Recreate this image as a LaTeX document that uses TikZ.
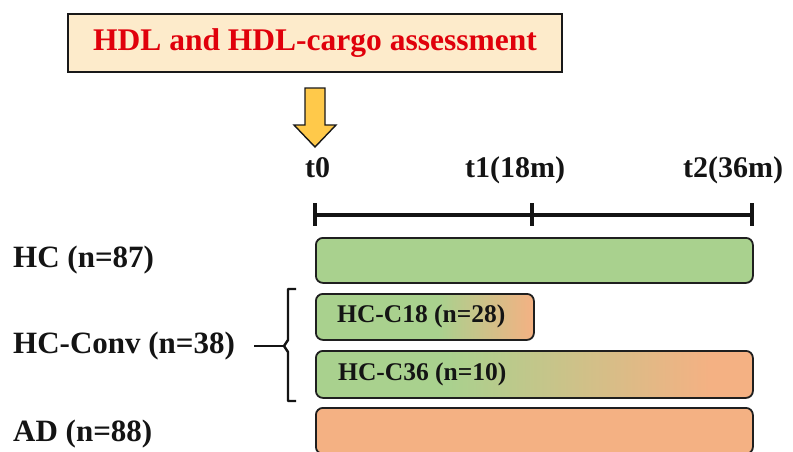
\documentclass[tikz,border=0pt]{standalone}
\usepackage{fontspec}
\setmainfont{Liberation Serif}
\usetikzlibrary{calc}
\definecolor{grn}{HTML}{A9D18E}
\definecolor{org}{HTML}{F4B183}
\definecolor{beige}{HTML}{FDEBCB}
\definecolor{ttlred}{HTML}{E0000B}
\definecolor{arrowyel}{HTML}{FFC94A}
\pgfdeclarehorizontalshading{shCeighteen}{100bp}{color(0bp)=(grn); color(25bp)=(grn); color(53bp)=(grn); color(75bp)=(org); color(100bp)=(org)}
\pgfdeclarehorizontalshading{shCthirtysix}{100bp}{color(0bp)=(grn); color(25bp)=(grn); color(40bp)=(grn); color(70bp)=(org); color(100bp)=(org)}
\begin{document}
\begin{tikzpicture}[x=1pt,y=-1pt,
  bar/.style={draw=black!88, line width=1.8pt, rounded corners=7pt, inner sep=0pt, anchor=north west},
  lbl/.style={font=\bfseries\fontsize{31}{31}\selectfont, inner sep=0pt, anchor=base west, text=black!92},
  tlbl/.style={font=\bfseries\fontsize{30}{30}\selectfont, inner sep=0pt, anchor=base west, text=black!92},
  inlbl/.style={font=\bfseries\fontsize{25.5}{25.5}\selectfont, inner sep=0pt, anchor=base west, text=black!92},
  axis/.style={line width=4.5pt, black!92}]
\useasboundingbox (0,0) rectangle (793,451);
\fill[white] (0,0) rectangle (793,451);

% title
\node[draw=black!90, line width=2.5pt, fill=beige, minimum width=494pt, minimum height=58pt,
      inner sep=0pt, text=ttlred, font=\bfseries\fontsize{31.5}{31.5}\selectfont] (title) at (315,43)
      {HDL and HDL-cargo assessment};

% yellow arrow
\draw[fill=arrowyel, line width=1.4pt, draw=black!90, line join=miter]
  (305,88) -- (325,88) -- (325,125) -- (336,125) -- (315,147) -- (294,125) -- (305,125) -- cycle;

% timeline labels
\node[tlbl] (lt0) at (305,177) {t0};
\node[tlbl] (lt1) at (465,177) {t1(18m)};
\node[tlbl] (lt2) at (683,177) {t2(36m)};

% timeline
\coordinate (T0) at (315,215);
\coordinate (T1) at (532,215);
\coordinate (T2) at (752,215);
\draw[axis] (T0) -- (T2);
\draw[axis] ([yshift=12pt]T0) -- ([yshift=-11pt]T0);
\draw[axis] ([yshift=12pt]T1) -- ([yshift=-11pt]T1);
\draw[axis] ([yshift=12pt]T2) -- ([yshift=-11pt]T2);

% bars
\node[bar, fill=grn, minimum width=437pt, minimum height=45pt] (hc) at (315,237) {};
\node[bar, shading=shCeighteen, minimum width=218pt, minimum height=46pt] (c18) at (315,293) {};
\node[bar, shading=shCthirtysix, minimum width=437pt, minimum height=47pt] (c36) at (315,350) {};
\node[bar, fill=org, minimum width=437pt, minimum height=46pt] (ad) at (315,407) {};

\node[inlbl] (c18t) at (337,322) {HC-C18 (n=28)};
\node[inlbl] (c36t) at (338,380) {HC-C36 (n=10)};

% group labels
\node[lbl] (hcl) at (13,267) {HC (n=87)};
\node[lbl] (convl) at (13,353) {HC-Conv (n=38)};
\node[lbl] (adl) at (13,441) {AD (n=88)};

% bracket
\coordinate (brk) at (284,346);
\draw[line width=2.4pt, black!92, line join=round]
  (296,289) -- (288,289) -- (288,340) -- (brk) -- (288,352) -- (288,401) -- (296,401);
\draw[line width=2.4pt, black!92] (254,346) -- (brk);
\end{tikzpicture}
\end{document}
